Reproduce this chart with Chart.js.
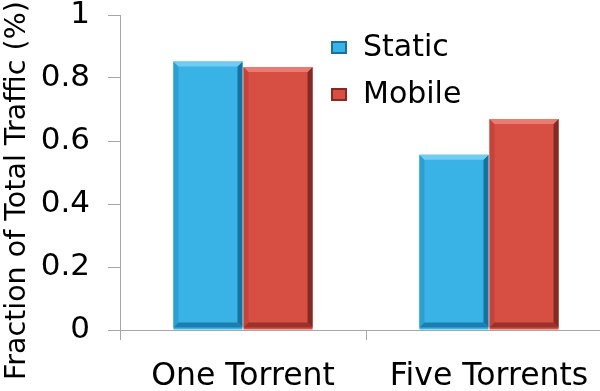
<!DOCTYPE html>
<html>
<head>
<meta charset="utf-8">
<script src="https://cdn.jsdelivr.net/npm/chart.js@4/dist/chart.umd.min.js"></script>
<style>
html,body{margin:0;padding:0;background:#fff;overflow:hidden;width:600px;height:391px;}
#wrap{position:relative;width:612px;height:391px;}
#legend{position:absolute;left:331px;top:23px;font-family:"DejaVu Sans";font-size:30px;color:#000;}
.item{position:relative;height:46.6px;line-height:46.6px;padding-left:32px;white-space:nowrap;}
.box{position:absolute;left:0;top:18px;width:16px;height:13px;box-sizing:border-box;border-style:solid;border-width:2px;}
</style>
</head>
<body>
<div id="wrap">
<canvas id="c" width="612" height="391"></canvas>
<div id="legend"></div>
</div>
<script>
const categories = ['One Torrent', 'Five Torrents'];
const seriesLabels = ['Static', 'Mobile'];
const staticValues = [0.852, 0.556];
const mobileValues = [0.835, 0.670];
const yTicks = [0, 0.2, 0.4, 0.6, 0.8, 1];
const yTickLabels = ['0', '0.2', '0.4', '0.6', '0.8', '1'];
const yTitle = 'Fraction of Total Traffic (%)';

const bevelPlugin = {
  id: 'bevel',
  afterDatasetsDraw(chart) {
    const ctx = chart.ctx;
    const poly = (pts, color) => {
      ctx.beginPath();
      ctx.moveTo(pts[0][0], pts[0][1]);
      for (let k = 1; k < pts.length; k++) ctx.lineTo(pts[k][0], pts[k][1]);
      ctx.closePath();
      ctx.fillStyle = color;
      ctx.fill();
    };
    chart.data.datasets.forEach((ds, i) => {
      const meta = chart.getDatasetMeta(i);
      const s = ds.bevel;
      meta.data.forEach(bar => {
        const p = bar.getProps(['x', 'y', 'base', 'width'], true);
        const L = p.x - p.width / 2, R = p.x + p.width / 2, T = p.y, B = p.base - 2;
        const b = 5;
        ctx.save();
        poly([[L, T], [L + b, T + b], [L + b, B - b], [L, B]], s.left);
        poly([[R, T], [R - b, T + b], [R - b, B - b], [R, B]], s.right);
        poly([[L, B], [L + b, B - b], [R - b, B - b], [R, B]], s.bottom);
        poly([[L, T], [R, T], [R - b, T + b], [L + b, T + b]], s.top);
        ctx.restore();
      });
    });
  }
};

const chart = new Chart(document.getElementById('c'), {
  type: 'bar',
  data: {
    labels: categories,
    datasets: [
      {
        label: seriesLabels[0],
        data: staticValues,
        backgroundColor: '#39B3E6',
        borderWidth: 0,
        bevel: {top: '#72CCF1', left: '#2C9FD3', right: '#16729F', bottom: '#1C7EAE'},
        categoryPercentage: 0.57,
        barPercentage: 0.985
      },
      {
        label: seriesLabels[1],
        data: mobileValues,
        backgroundColor: '#D74E43',
        borderWidth: 0,
        bevel: {top: '#EA7B70', left: '#C4443A', right: '#832A24', bottom: '#98322B'},
        categoryPercentage: 0.57,
        barPercentage: 0.985
      }
    ]
  },
  options: {
    responsive: false,
    animation: false,
    layout: {padding: 0},
    plugins: {
      legend: {display: false},
      tooltip: {enabled: false}
    },
    scales: {
      x: {
        offset: true,
        afterFit(scale) { scale.height = 61; },
        grid: {drawOnChartArea: false, drawTicks: true, tickLength: 10, color: '#A6A6A6', offset: true},
        border: {color: '#A6A6A6', width: 1},
        ticks: {color: '#000', padding: 21, font: {family: 'DejaVu Sans', size: 31.5, lineHeight: 1}}
      },
      y: {
        min: 0,
        max: 1,
        afterFit(scale) { scale.width = 120; scale.paddingTop = 15; scale.paddingBottom = 15; },
        afterBuildTicks(scale) { scale.ticks = yTicks.map(v => ({value: v})); },
        grid: {drawOnChartArea: false, drawTicks: true, tickLength: 12, color: '#A6A6A6'},
        border: {color: '#A6A6A6', width: 1},
        ticks: {
          color: '#000', padding: 18,
          font: {family: 'DejaVu Sans', size: 31, lineHeight: 1},
          callback: (v) => yTickLabels[yTicks.indexOf(v)]
        },
        title: {
          display: true,
          text: yTitle + '    ',
          color: '#000',
          padding: 0,
          font: {family: 'DejaVu Sans', size: 28.5, lineHeight: 1.2}
        }
      }
    }
  },
  plugins: [bevelPlugin]
});

const legendEl = document.getElementById('legend');
chart.data.datasets.forEach(ds => {
  const item = document.createElement('div');
  item.className = 'item';
  const box = document.createElement('span');
  box.className = 'box';
  box.style.background = ds.backgroundColor;
  box.style.borderColor = ds.bevel.right;
  item.appendChild(box);
  item.appendChild(document.createTextNode(ds.label));
  legendEl.appendChild(item);
});
</script>
</body>
</html>
